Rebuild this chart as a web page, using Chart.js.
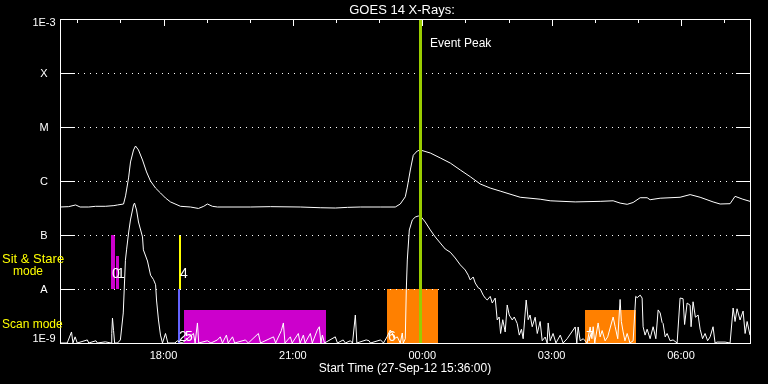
<!DOCTYPE html>
<html>
<head>
<meta charset="utf-8">
<script src="https://cdn.jsdelivr.net/npm/chart.js@4.4.0/dist/chart.umd.min.js"></script>
<style>
  html, body { margin: 0; padding: 0; background: #000; }
  #wrap { width: 768px; height: 384px; }
</style>
</head>
<body>
<div id="wrap"><canvas id="goes" width="768" height="384"></canvas></div>
<script>
// times are minutes after the start time 27-Sep-12 15:36:00
const startLabel = 'Start Time (27-Sep-12 15:36:00)';

// long channel (1-8 A)
const longTime = [0, 12, 21.7, 28, 40, 49.5, 63, 75, 80, 88.4, 91.2, 95.4, 98.1, 102.3, 105.1, 109.2, 114.8, 120.4, 125.9, 132.9,
  139.8, 146.8, 153.7, 167.6, 181.5, 192.6, 200, 205.1, 212, 219, 264.9, 292.7, 334.4, 362, 383.1, 400, 417.9, 445.6, 466.5, 473.4,
  480.4, 483.2, 487.4, 491.5, 497.1, 501.3, 515.2, 529.1, 543, 556.9, 570.8, 584.7, 598.6, 612.5, 640.3, 668.1, 682, 716.8, 751.5, 769.6,
  779.3, 789.1, 797.4, 807.2, 816.9, 821, 835, 862.7, 876.7, 890.6, 908.6, 918.4, 932.3, 939.2, 950, 960];
const longFlux = [3.3e-7, 3.35e-7, 3.6e-7, 3.3e-7, 3.3e-7, 3.4e-7, 3.4e-7, 3.5e-7, 3.6e-7, 3.75e-7, 5.3e-7, 1.14e-6, 2.25e-6, 3.75e-6, 4.45e-6, 3.75e-6, 2.45e-6, 1.47e-6, 1.0e-6, 7.4e-7,
  6.0e-7, 4.84e-7, 4.1e-7, 3.4e-7, 3.3e-7, 3.1e-7, 3.4e-7, 3.75e-7, 3.4e-7, 3.3e-7, 3.3e-7, 3.35e-7, 3.3e-7, 3.2e-7, 3.16e-7, 3.25e-7, 3.3e-7, 3.3e-7, 3.3e-7, 3.75e-7,
  5.1e-7, 7.7e-7, 1.6e-6, 3.0e-6, 3.6e-6, 3.75e-6, 3.3e-6, 2.67e-6, 2.15e-6, 1.6e-6, 1.2e-6, 8.8e-7, 7.4e-7, 6.5e-7, 5.0e-7, 4.6e-7, 4.3e-7, 4.1e-7, 4.2e-7, 4.3e-7,
  3.9e-7, 3.7e-7, 4.0e-7, 4.9e-7, 4.9e-7, 4.5e-7, 4.8e-7, 5.0e-7, 5.6e-7, 5.0e-7, 4.1e-7, 3.75e-7, 3.8e-7, 5.2e-7, 4.6e-7, 4.2e-7];

// short channel (0.5-4 A)
const shortTime = [0, 10, 16, 18, 21, 24, 38, 40, 50, 52, 63, 71, 72, 73, 74.5, 76, 80, 84, 88, 91,
  92.6, 95.4, 98, 102.3, 103.7, 106.5, 109.2, 114.8, 116, 121.7, 126, 130, 133, 134.3, 137, 139.8, 142.6, 146.8, 150, 160,
  163, 170, 185.7, 188, 191.2, 193, 205, 210, 219, 223, 226, 231.5, 234, 240, 243, 258, 262, 276, 279, 297,
  300, 308, 310.8, 313, 320.5, 323, 331.6, 334, 338.6, 341, 348.3, 351, 358, 360.8, 363, 365, 368, 383, 386, 394,
  397, 404, 407, 410.9, 413, 426, 430, 432, 446, 450, 455, 459.5, 462.3, 465, 469.3, 473.4, 476.2, 477.6, 480.4, 481.8,
  483.2, 486, 490.2, 494.3, 498.5, 502.7, 508.2, 515.2, 522.1, 529.1, 536, 543, 549.9, 556.9, 563.8, 568, 570.8, 574.9, 577.7, 581.9,
  584.7, 588.8, 591.6, 594.4, 598.6, 601.4, 605.5, 608.3, 611, 613, 616, 619.4, 622.2, 625, 629.2, 632, 636.1, 639, 642, 644.4,
  648.6, 651.4, 654, 657, 661.1, 664, 668, 670.9, 675, 677.8, 679.2, 682, 686, 690, 696, 700, 705.6, 716.8, 719, 720.9,
  723.7, 728, 733.4, 737.6, 740, 741.8, 744, 748.7, 751.5, 754.3, 758.4, 762, 769.6, 772.4, 776, 779.3, 781, 783.5, 786, 789.1,
  793, 797.4, 801, 803, 807.2, 809.9, 811.3, 814, 816.9, 821, 825.2, 829, 832.2, 835, 837.7, 839.1, 842, 844.7, 848.8, 853,
  858.6, 862.7, 866.9, 869, 872.5, 876.7, 878, 880.8, 884, 887.8, 890.6, 894, 897.5, 901, 904.5, 908.6, 911.4, 914.2, 925.3, 932.3,
  936.5, 939.2, 942, 946.2, 950.4, 953.2, 956, 960];
const shortFlux = [1.0e-9, 1.0e-9, 1.6e-9, 1.0e-9, 1.3e-9, 1.0e-9, 1.14e-9, 1.0e-9, 1.1e-9, 1.0e-9, 1.05e-9, 1.0e-9, 1.5e-9, 2.9e-9, 1.7e-9, 1.0e-9, 1.0e-9, 1.14e-9, 3.6e-9, 3.4e-8,
  5.3e-8, 1.09e-7, 1.9e-7, 3.6e-7, 3.9e-7, 2.9e-7, 1.74e-7, 9.2e-8, 5.3e-8, 3.3e-8, 1.8e-8, 1.5e-8, 1.2e-8, 6.25e-9, 2.67e-9, 1.4e-9, 1.0e-9, 1.5e-9, 1.0e-9, 1.0e-9,
  1.1e-9, 1.0e-9, 1.5e-9, 1.0e-9, 2.35e-9, 1.0e-9, 1.1e-9, 1.0e-9, 1.14e-9, 1.3e-9, 1.0e-9, 1.4e-9, 1.0e-9, 1.3e-9, 1.0e-9, 1.14e-9, 1.0e-9, 1.5e-9, 1.0e-9, 1.3e-9,
  1.0e-9, 1.7e-9, 2.35e-9, 1.0e-9, 1.3e-9, 1.0e-9, 1.5e-9, 1.0e-9, 1.4e-9, 1.0e-9, 1.5e-9, 1.0e-9, 1.74e-9, 2.0e-9, 1.0e-9, 1.4e-9, 1.0e-9, 1.3e-9, 1.0e-9, 1.14e-9,
  1.0e-9, 1.1e-9, 1.0e-9, 3.3e-9, 1.0e-9, 1.14e-9, 1.1e-9, 1.0e-9, 1.14e-9, 1.0e-9, 1.3e-9, 1.74e-9, 1.53e-9, 1.2e-9, 1.3e-9, 1.0e-9, 1.53e-9, 1.0e-9, 1.2e-9, 9.6e-9,
  3.45e-8, 1.24e-7, 1.9e-7, 2.15e-7, 2.25e-7, 2.15e-7, 1.74e-7, 1.24e-7, 9.2e-8, 7.1e-8, 5.5e-8, 4.8e-8, 3.75e-8, 2.8e-8, 2.25e-8, 1.8e-8, 1.47e-8, 1.67e-8, 1.29e-8, 1.05e-8,
  1.0e-8, 7.7e-9, 6.8e-9, 6.25e-9, 7.3e-9, 5.5e-9, 6.8e-9, 2.67e-9, 3.03e-9, 1.5e-9, 2.7e-9, 1.6e-9, 5.06e-9, 3.3e-9, 2.67e-9, 3.03e-9, 2.3e-9, 1.4e-9, 1.8e-9, 1.2e-9,
  6.25e-9, 2.7e-9, 3.3e-9, 2.0e-9, 3.0e-9, 1.5e-9, 2.5e-9, 1.1e-9, 1.29e-9, 1.0e-9, 2.35e-9, 1.1e-9, 1.5e-9, 1.0e-9, 1.4e-9, 1.0e-9, 1.2e-9, 1.98e-9, 1.0e-9, 1.98e-9,
  1.1e-9, 1.2e-9, 1.0e-9, 1.98e-9, 1.2e-9, 2.0e-9, 1.0e-9, 2.35e-9, 1.3e-9, 1.7e-9, 1.1e-9, 1.3e-9, 3.03e-9, 2.0e-9, 1.2e-9, 6.4e-9, 2.5e-9, 1.6e-9, 1.1e-9, 1.5e-9,
  1.0e-9, 1.1e-9, 7.3e-9, 6.9e-9, 7.7e-9, 6.8e-9, 2.0e-9, 1.4e-9, 1.8e-9, 1.2e-9, 2.0e-9, 1.2e-9, 4.1e-9, 3.6e-9, 2.4e-9, 2.3e-9, 1.3e-9, 1.5e-9, 1.1e-9, 1.14e-9,
  1.0e-9, 6.8e-9, 6.6e-9, 2.2e-9, 5.5e-9, 5.0e-9, 2.0e-9, 5.8e-9, 3.0e-9, 3.3e-9, 1.8e-9, 1.2e-9, 1.5e-9, 1.1e-9, 1.3e-9, 2.0e-9, 1.0e-9, 1.04e-9, 1.04e-9, 1.0e-9,
  4.45e-9, 2.5e-9, 4.3e-9, 2.67e-9, 3.9e-9, 1.5e-9, 2.5e-9, 1.4e-9];

// observing blocks: id, start/end minute, flux band
const blockIds   = ['0', '1', '2', '4', '5', '6', '7'];
const blockStart = [70.3, 77.3, 163.5, 166.2, 173.2, 455.2, 730.3];
const blockEnd   = [75.9, 81.4, 167.6, 169.0, 370.5, 526.1, 801.2];
const blockLow   = [1e-8, 1e-8, 1e-9, 1e-8, 1e-9, 1e-9, 1e-9];
const blockHigh  = [1e-7, 4.1e-8, 1e-8, 1e-7, 4.1e-9, 1e-8, 4.1e-9];

const eventPeak = 501.3; // 23:57

const yTickValues = [1e-9, 1e-8, 1e-7, 1e-6, 1e-5, 1e-4, 1e-3];
const yTickLabels = ['1E-9', 'A', 'B', 'C', 'M', 'X', '1E-3'];
const hourTicks = [24, 84, 144, 204, 264, 324, 384, 444, 504, 564, 624, 684, 744, 804, 864, 924];
const majorTicks = [144, 324, 504, 684, 864];
const majorLabels = ['18:00', '21:00', '00:00', '03:00', '06:00'];

// styles
const blockColors = ['#cc00cc', '#cc00cc', '#6464ff', '#ffff00', '#cc00cc', '#ff8000', '#ff8000'];
const FONT = '"Liberation Sans", Arial, sans-serif';

const toPoints = (t, f) => t.map((v, i) => ({x: v, y: f[i]}));

const goesDecor = {
  id: 'goesDecor',
  beforeDatasetsDraw(chart) {
    const {ctx, chartArea: a, scales: {x, y}} = chart;
    ctx.save();
    blockStart.forEach((s, i) => {
      const x0 = Math.round(x.getPixelForValue(s));
      const x1 = Math.round(x.getPixelForValue(blockEnd[i]));
      const yt = Math.round(y.getPixelForValue(blockHigh[i]));
      const yb = Math.round(y.getPixelForValue(blockLow[i]));
      ctx.fillStyle = blockColors[i];
      ctx.fillRect(x0, yt, Math.max(x1 - x0, 2), yb - yt);
    });
    // grid: solid stubs at both ends, dotted between
    ctx.strokeStyle = '#fff';
    ctx.lineWidth = 1;
    yTickValues.slice(1, -1).forEach(v => {
      const py = Math.round(y.getPixelForValue(v)) + 0.5;
      ctx.setLineDash([]);
      ctx.beginPath();
      ctx.moveTo(a.left, py); ctx.lineTo(a.left + 15, py);
      ctx.moveTo(a.right - 14, py); ctx.lineTo(a.right, py);
      ctx.stroke();
      ctx.setLineDash([1, 5]);
      ctx.beginPath();
      ctx.moveTo(a.left + 18, py); ctx.lineTo(a.right - 15, py);
      ctx.stroke();
    });
    ctx.restore();
  },
  afterDatasetsDraw(chart) {
    const {ctx, chartArea: a, scales: {x, y}} = chart;
    ctx.save();
    // event peak marker
    const px = Math.round(x.getPixelForValue(eventPeak));
    ctx.fillStyle = '#9acd00';
    ctx.fillRect(px - 1, a.top, 3, a.bottom - a.top);

    // frame + hour ticks on top
    ctx.strokeStyle = '#fff';
    ctx.lineWidth = 1;
    ctx.strokeRect(a.left + 0.5, a.top + 0.5, a.right - a.left, a.bottom - a.top);
    ctx.beginPath();
    hourTicks.forEach(t => {
      const tx = Math.round(x.getPixelForValue(t)) + 0.5;
      ctx.moveTo(tx, a.top);
      ctx.lineTo(tx, a.top + (majorTicks.includes(t) ? 7 : 4));
    });
    ctx.stroke();

    // block numbers
    ctx.fillStyle = '#fff';
    ctx.font = '14px ' + FONT;
    ctx.textAlign = 'left';
    ctx.textBaseline = 'alphabetic';
    blockIds.forEach((id, i) => {
      const bx = Math.round(x.getPixelForValue(blockStart[i]));
      const by = Math.round(y.getPixelForValue(blockLow[i]));
      ctx.fillText(id, bx + 1, by - (blockLow[i] >= 1e-8 ? 11 : 2));
    });

    // y labels
    ctx.font = '11px ' + FONT;
    ctx.textAlign = 'center';
    ctx.textBaseline = 'middle';
    yTickValues.forEach((v, i) => {
      let py = y.getPixelForValue(v);
      if (i === 0) py -= 4;
      else if (i === yTickValues.length - 1) py += 4;
      else py += 1;
      ctx.fillText(yTickLabels[i], 44, py);
    });

    // texts
    ctx.textBaseline = 'alphabetic';
    ctx.font = '13px ' + FONT;
    ctx.fillText('GOES 14 X-Rays:', 402, 14);
    ctx.font = '12px ' + FONT;
    ctx.fillText(startLabel, 405, 372);
    ctx.textAlign = 'left';
    ctx.fillText('Event Peak', 430, 47);
    ctx.fillStyle = '#ffff00';
    ctx.font = '13px ' + FONT;
    ctx.fillText('Sit & Stare', 2, 263);
    ctx.font = '12px ' + FONT;
    ctx.fillText('mode', 13, 275);
    ctx.fillText('Scan mode', 2, 328);
    ctx.restore();
  }
};

new Chart(document.getElementById('goes'), {
  type: 'line',
  data: {
    datasets: [
      { label: 'Long', data: toPoints(longTime, longFlux), borderColor: '#fff', borderWidth: 1, pointRadius: 0, tension: 0 },
      { label: 'Short', data: toPoints(shortTime, shortFlux), borderColor: '#fff', borderWidth: 1, pointRadius: 0, tension: 0 }
    ]
  },
  options: {
    responsive: false,
    animation: false,
    layout: { padding: { top: 19, right: 18, left: 0, bottom: 0 } },
    plugins: { legend: { display: false }, tooltip: { enabled: false }, title: { display: false } },
    scales: {
      x: {
        type: 'linear', position: 'bottom', min: 0, max: 960,
        afterBuildTicks: s => { s.ticks = hourTicks.map(v => ({value: v})); },
        afterFit: s => { s.height = 41; },
        grid: { display: false, drawTicks: false },
        border: { display: false },
        ticks: {
          autoSkip: false, maxRotation: 0, padding: 6, color: '#fff',
          font: { family: FONT, size: 11 },
          callback: v => { const i = majorTicks.indexOf(v); return i >= 0 ? majorLabels[i] : ''; }
        }
      },
      y: {
        type: 'logarithmic', min: 1e-9, max: 1e-3,
        afterBuildTicks: s => { s.ticks = yTickValues.map(v => ({value: v})); },
        afterFit: s => { s.width = 60; },
        grid: { display: false, drawTicks: false },
        border: { display: false },
        ticks: { display: false }
      }
    }
  },
  plugins: [goesDecor]
});
</script>
</body>
</html>
